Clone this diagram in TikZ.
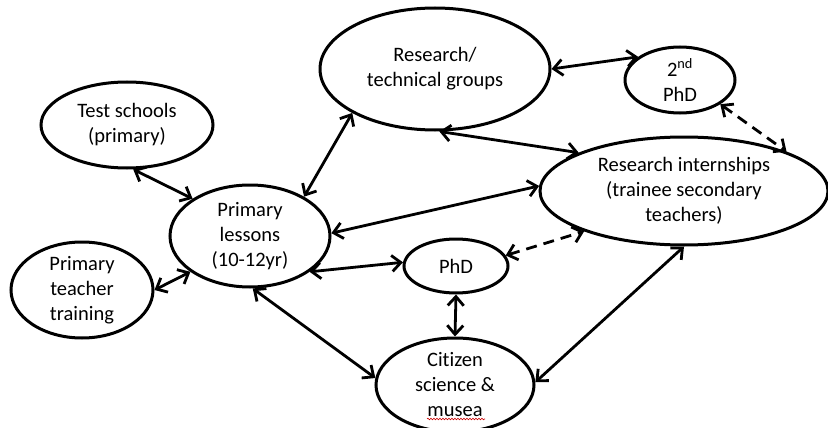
\documentclass[tikz,border=0pt]{standalone}
\usepackage{fontspec}
\setmainfont{Carlito}[Ligatures=NoCommon]
\usetikzlibrary{shapes.geometric,arrows.meta,decorations.pathmorphing}
\tikzstyle{mybubble} = [draw=black, fill=white, line width=3pt,
    ellipse, inner sep=0pt, align=center, font=\fontsize{20.5}{25}\selectfont]
\tikzstyle{mylink} = [line width=2.8pt,
    arrows={Straight Barb[length=9pt,width=16pt]-Straight Barb[length=9pt,width=16pt]}]
\tikzstyle{mydashlink} = [mylink, dash pattern=on 11pt off 7pt]

\begin{document}
\begin{tikzpicture}[x=1pt,y=1pt]
                \useasboundingbox (0,0) rectangle (828,-428);
                % the bubbles
                \node [mybubble, minimum width=230pt, minimum height=122pt] (groups) at (435,-69) {Research/\\technical groups};
                \node [mybubble, minimum width=110pt, minimum height=66pt] (phdtwo) at (680,-80) {2\textsuperscript{nd}\\PhD};
                \node [mybubble, minimum width=172pt, minimum height=86pt] (schools) at (127,-125) {Test schools\\(primary)};
                \node [mybubble, minimum width=160pt, minimum height=102pt] (lessons) at (250,-236) {Primary\\lessons\\(10-12yr)};
                \node [mybubble, minimum width=142pt, minimum height=96pt] (training) at (82,-290) {Primary\\teacher\\training};
                \node [mybubble, minimum width=104pt, minimum height=54pt] (phd) at (456,-266) {PhD};
                \node [mybubble, minimum width=158pt, minimum height=94pt] (citizen) at (455,-385) {Citizen\\science \&\\musea};
                \node [mybubble, minimum width=288pt, minimum height=108pt] (intern) at (684,-191) {Research internships\\(trainee secondary\\teachers)};
                % spelling mark under musea
                \draw [red!80!black, line width=0.6pt, decorate, decoration={snake, amplitude=0.8pt, segment length=3pt}] (427,-419) -- (485,-419);
                % the links
                \draw [mylink] (groups.0) -- (phdtwo.151);
                \draw [mylink] (groups.-86) -- (intern.160);
                \draw [mydashlink] (phdtwo.-31) -- (intern.21);
                \draw [mylink] (schools.-82) -- (lessons.147);
                \draw [mylink] (lessons.36) -- (groups.208);
                \draw [mylink] (lessons.2) -- (intern.178);
                \draw [mylink] (lessons.-31) -- (phd.176);
                \draw [mydashlink] (phd.12) -- (intern.202);
                \draw [mylink] (phd.-90) -- (citizen.90);
                \draw [mylink] (lessons.-87) -- (citizen.175);
                \draw [mylink] (training.0) -- (lessons.211);
                \draw [mylink] (citizen.2) -- (intern.-90);
            \end{tikzpicture}
\end{document}
